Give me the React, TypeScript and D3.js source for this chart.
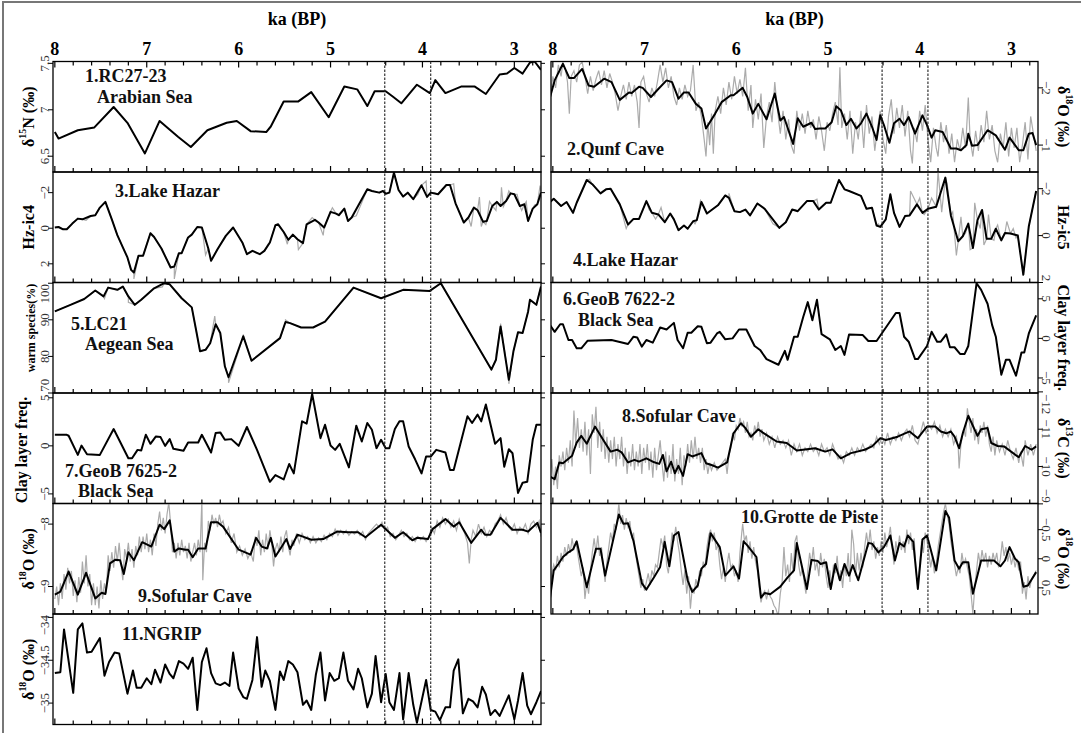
import React from 'react';
import * as d3 from 'd3';

type P = [number, number];

// ---------- data (ka BP, value) ----------
const kaTicks = [8, 7, 6, 5, 4, 3];
const eventLines = [4.41, 3.91];

const rc2723: P[] = [[8.0,6.76],[7.96,6.69],[7.75,6.78],[7.57,6.81],[7.36,7.03],[7.21,6.86],[7.02,6.53],[6.86,6.88],[6.66,6.71],[6.52,6.6],[6.34,6.78],[6.13,6.86],[6.02,6.88],[5.87,6.77],[5.7,6.76],[5.65,6.82],[5.51,7.09],[5.35,7.09],[5.21,7.19],[5.02,6.92],[4.85,7.25],[4.71,7.22],[4.6,7.04],[4.52,7.2],[4.4,7.2],[4.32,7.14],[4.23,7.07],[4.06,7.27],[3.92,7.18],[3.86,7.32],[3.75,7.18],[3.58,7.25],[3.43,7.25],[3.31,7.17],[3.16,7.38],[3.08,7.39],[3.0,7.45],[2.91,7.39],[2.83,7.51],[2.78,7.52],[2.71,7.43]];

const qunfSmooth: P[] = [[8.03,-1.84],[7.98,-2.13],[7.89,-2.42],[7.82,-2.17],[7.77,-2.17],[7.68,-2.33],[7.61,-2.04],[7.55,-2.02],[7.44,-2.16],[7.36,-2.1],[7.27,-1.79],[7.17,-1.92],[7.14,-1.91],[7.06,-2.02],[7.02,-2.0],[6.93,-1.84],[6.85,-1.98],[6.76,-2.13],[6.7,-2.1],[6.63,-1.81],[6.57,-1.92],[6.52,-1.92],[6.44,-1.72],[6.38,-1.64],[6.33,-1.29],[6.23,-1.55],[6.16,-1.75],[6.06,-1.87],[6.03,-1.87],[5.93,-2.0],[5.88,-1.84],[5.82,-1.55],[5.76,-1.72],[5.67,-1.45],[5.58,-1.9],[5.52,-1.43],[5.48,-1.49],[5.38,-1.02],[5.33,-1.47],[5.27,-1.32],[5.18,-1.39],[5.14,-1.28],[5.09,-1.29],[5.03,-1.29],[4.96,-1.4],[4.91,-1.68],[4.86,-1.61],[4.8,-1.35],[4.75,-1.46],[4.69,-1.29],[4.64,-1.38],[4.58,-1.55],[4.52,-1.32],[4.47,-1.09],[4.43,-1.52],[4.39,-1.35],[4.33,-1.04],[4.28,-1.38],[4.22,-1.46],[4.17,-1.35],[4.12,-1.49],[4.05,-1.2],[3.97,-1.52],[3.92,-1.35],[3.87,-1.13],[3.83,-1.26],[3.75,-1.23],[3.66,-0.94],[3.6,-0.94],[3.55,-0.91],[3.49,-1.0],[3.47,-1.2],[3.43,-0.99],[3.37,-1.0],[3.26,-1.26],[3.17,-1.17],[3.07,-0.92],[3.02,-1.13],[2.92,-0.91],[2.87,-0.91],[2.81,-1.2],[2.77,-1.21],[2.73,-1.0]];

const qunfRaw: P[] = [[8.03,-1.8],[8.0,-2.2],[7.97,-2.0],[7.94,-2.4],[7.91,-2.2],[7.89,-2.45],[7.86,-2.3],[7.84,-2.1],[7.82,-1.55],[7.8,-2.2],[7.77,-2.3],[7.74,-2.1],[7.71,-2.4],[7.68,-2.45],[7.65,-2.2],[7.62,-1.9],[7.59,-2.2],[7.56,-1.95],[7.53,-2.15],[7.5,-2.3],[7.47,-2.05],[7.44,-2.3],[7.41,-2.0],[7.38,-2.25],[7.35,-2.1],[7.32,-1.9],[7.29,-1.6],[7.26,-1.85],[7.23,-2.05],[7.2,-1.8],[7.17,-2.1],[7.14,-1.85],[7.11,-2.05],[7.08,-1.75],[7.06,-1.3],[7.04,-2.1],[7.01,-2.2],[6.98,-1.9],[6.95,-1.75],[6.92,-2.0],[6.89,-1.85],[6.86,-2.1],[6.83,-2.4],[6.8,-2.1],[6.77,-2.35],[6.74,-2.0],[6.71,-2.2],[6.68,-1.85],[6.65,-1.7],[6.62,-2.0],[6.59,-1.8],[6.56,-2.05],[6.53,-1.85],[6.5,-1.95],[6.47,-2.4],[6.44,-1.6],[6.41,-1.75],[6.38,-1.5],[6.35,-1.1],[6.33,-0.8],[6.31,-1.4],[6.29,-1.0],[6.27,-1.55],[6.25,-0.85],[6.23,-1.6],[6.2,-1.85],[6.17,-1.55],[6.14,-2.0],[6.11,-1.7],[6.08,-2.1],[6.05,-1.8],[6.02,-2.2],[5.99,-1.9],[5.96,-2.15],[5.93,-1.85],[5.9,-2.35],[5.87,-1.6],[5.84,-2.05],[5.82,-1.3],[5.79,-1.8],[5.76,-1.45],[5.73,-1.9],[5.7,-0.95],[5.67,-1.5],[5.64,-1.75],[5.61,-1.4],[5.58,-2.1],[5.55,-1.6],[5.52,-1.2],[5.49,-1.6],[5.46,-1.1],[5.43,-1.45],[5.4,-1.0],[5.37,-0.85],[5.34,-1.6],[5.31,-1.25],[5.28,-1.55],[5.25,-1.2],[5.22,-1.6],[5.19,-1.3],[5.16,-1.45],[5.13,-1.1],[5.1,-1.5],[5.07,-1.25],[5.04,-0.9],[5.01,-1.4],[4.98,-1.25],[4.95,-1.55],[4.92,-1.75],[4.89,-1.35],[4.87,-2.36],[4.85,-1.3],[4.82,-1.55],[4.79,-1.1],[4.76,-1.6],[4.73,-0.85],[4.7,-1.4],[4.67,-1.1],[4.64,-1.6],[4.61,-0.95],[4.58,-1.7],[4.55,-1.2],[4.52,-1.5],[4.49,-0.9],[4.46,-1.3],[4.43,-1.6],[4.4,-1.1],[4.37,-0.85],[4.34,-1.5],[4.31,-1.8],[4.28,-1.2],[4.25,-1.65],[4.22,-1.3],[4.19,-1.7],[4.16,-1.15],[4.13,-1.6],[4.1,-0.9],[4.08,-0.68],[4.06,-1.3],[4.03,-1.05],[4.0,-1.6],[3.97,-1.25],[3.94,-1.7],[3.91,-1.1],[3.88,-0.7],[3.85,-1.3],[3.82,-0.95],[3.8,-0.8],[3.77,-1.4],[3.74,-1.05],[3.71,-1.35],[3.68,-0.85],[3.65,-1.2],[3.62,-0.7],[3.59,-1.1],[3.56,-0.9],[3.53,-1.3],[3.5,-0.95],[3.47,-1.83],[3.45,-1.1],[3.42,-0.8],[3.39,-1.25],[3.36,-0.9],[3.33,-1.35],[3.3,-1.05],[3.27,-1.6],[3.24,-1.1],[3.21,-1.35],[3.18,-0.9],[3.15,-0.7],[3.12,-1.2],[3.09,-0.95],[3.06,-1.4],[3.03,-0.8],[3.0,-1.3],[2.97,-0.95],[2.94,-1.3],[2.91,-0.7],[2.88,-1.0],[2.85,-1.4],[2.82,-0.75],[2.79,-1.5],[2.76,-1.2],[2.73,-0.9]];

const hazarIc4: P[] = [[8.0,-0.04],[7.96,-0.07],[7.91,0.06],[7.87,0.06],[7.81,-0.26],[7.75,-0.54],[7.7,-0.5],[7.61,-0.69],[7.56,-0.73],[7.51,-1.16],[7.45,-1.48],[7.38,-0.5],[7.32,0.39],[7.26,1.08],[7.21,1.64],[7.17,2.34],[7.14,2.49],[7.09,1.55],[7.04,1.55],[6.96,0.28],[6.92,0.49],[6.84,1.14],[6.74,2.21],[6.7,2.15],[6.65,1.4],[6.62,1.4],[6.55,0.52],[6.51,0.36],[6.45,-0.07],[6.4,-0.04],[6.33,1.14],[6.3,1.83],[6.23,1.18],[6.14,0.43],[6.06,-0.04],[5.96,0.8],[5.91,1.46],[5.85,1.27],[5.77,1.46],[5.72,1.27],[5.66,0.8],[5.6,-0.17],[5.57,-0.22],[5.51,0.21],[5.46,0.65],[5.41,0.36],[5.36,0.62],[5.3,0.84],[5.26,-0.22],[5.17,-0.47],[5.13,-0.32],[5.07,-0.04],[5.0,-0.92],[4.94,-0.82],[4.91,-0.73],[4.85,-1.1],[4.81,-0.41],[4.77,-0.6],[4.6,-2.19],[4.55,-2.09],[4.47,-2.0],[4.43,-2.09],[4.4,-1.94],[4.36,-2.0],[4.31,-3.12],[4.26,-2.15],[4.21,-1.78],[4.16,-2.0],[4.1,-1.63],[4.01,-2.41],[3.95,-1.76],[3.91,-2.0],[3.83,-1.91],[3.74,-2.43],[3.7,-2.43],[3.64,-1.4],[3.55,-0.32],[3.5,-0.6],[3.44,-1.16],[3.4,-1.01],[3.34,-0.36],[3.3,-0.41],[3.24,-1.25],[3.19,-1.48],[3.15,-1.25],[3.09,-1.53],[3.04,-1.96],[3.0,-1.91],[2.94,-1.25],[2.89,-1.35],[2.85,-0.41],[2.8,-1.1],[2.75,-1.35],[2.71,-2.0]];
const hazarIc4Spikes: P[] = [[7.66,-0.45],[7.14,2.85],[6.98,0.6],[6.7,2.85],[6.36,1.5],[5.68,0.9],[5.47,0.9],[5.35,1.2],[5.2,-0.6],[5.08,0.4],[4.98,-1.15],[4.72,-0.7],[4.42,-2.1],[4.05,-1.9],[3.96,-2.65],[3.87,-2.0],[3.66,-2.5],[3.47,-0.1],[3.38,-1.75],[3.36,-0.1],[3.31,-0.2],[3.27,-1.5],[3.2,-1.0],[3.14,-2.3],[3.12,-1.2],[3.06,-2.1],[2.97,-1.9],[2.92,-1.0],[2.87,-1.5],[2.78,-1.3],[2.72,-2.4]];

const hazarIc5: P[] = [[8.03,-1.43],[7.99,-1.57],[7.91,-1.26],[7.85,-1.43],[7.78,-0.97],[7.74,-1.4],[7.63,-2.37],[7.57,-2.19],[7.48,-1.8],[7.42,-1.97],[7.37,-2.0],[7.27,-1.33],[7.18,-0.47],[7.12,-0.71],[7.06,-0.71],[6.98,-1.47],[6.92,-0.97],[6.85,-0.9],[6.78,-0.57],[6.72,-0.94],[6.68,-0.69],[6.63,-0.23],[6.57,-0.43],[6.53,-0.29],[6.47,-0.61],[6.43,-0.66],[6.38,-1.43],[6.32,-0.94],[6.2,-1.29],[6.12,-1.71],[6.08,-1.61],[6.02,-1.04],[5.96,-1.0],[5.9,-1.11],[5.85,-0.86],[5.77,-1.37],[5.69,-1.14],[5.53,-0.33],[5.46,-0.57],[5.39,-1.11],[5.33,-1.04],[5.23,-1.47],[5.16,-1.47],[5.1,-1.11],[5.02,-1.4],[4.97,-1.4],[4.88,-2.37],[4.82,-1.97],[4.77,-1.9],[4.64,-1.69],[4.58,-1.14],[4.52,-1.19],[4.47,-0.43],[4.43,-0.37],[4.37,-0.69],[4.32,-1.76],[4.28,-0.97],[4.22,-0.37],[4.16,-0.83],[4.11,-0.86],[4.03,-1.33],[3.97,-0.97],[3.91,-1.14],[3.82,-1.23],[3.72,-2.47],[3.66,-0.86],[3.58,0.24],[3.53,0.03],[3.47,-0.51],[3.42,0.53],[3.37,-0.66],[3.32,-1.09],[3.27,0.14],[3.22,0.14],[3.17,-0.29],[3.11,0.2],[3.07,-0.11],[3.01,-0.09],[2.93,0.0],[2.87,1.67],[2.81,-0.4],[2.73,-1.9]];
const hazarIc5Spikes: P[] = [[7.6,-2.4],[7.45,-1.9],[7.2,-0.3],[6.95,-1.1],[6.88,-0.7],[6.82,-1.2],[6.45,-0.5],[6.39,-1.5],[6.08,-1.8],[5.6,-0.5],[5.35,-1.1],[5.12,-1.55],[4.45,-0.5],[4.1,-1.9],[4.0,-1.6],[3.95,-0.9],[3.87,-1.6],[3.8,-2.75],[3.76,-1.0],[3.7,-2.2],[3.64,-1.0],[3.6,0.85],[3.55,-0.8],[3.5,-0.1],[3.45,0.6],[3.4,-1.4],[3.34,-0.3],[3.3,0.4],[3.25,-0.9],[3.19,0.2],[3.15,-0.45],[3.1,0.1],[3.05,-0.6],[2.98,-0.3],[2.95,0.1]];

const lc21: P[] = [[8.0,92.3],[7.83,94.1],[7.68,95.7],[7.56,98.0],[7.47,96.4],[7.42,98.8],[7.32,98.2],[7.26,99.1],[7.2,96.4],[7.13,94.1],[7.06,95.5],[6.92,98.6],[6.81,100.0],[6.75,99.7],[6.62,95.9],[6.51,93.4],[6.46,86.8],[6.42,81.4],[6.36,81.8],[6.31,83.6],[6.25,88.8],[6.2,86.4],[6.15,77.3],[6.11,74.3],[5.95,85.5],[5.86,78.8],[5.55,85.0],[5.49,89.4],[5.44,89.1],[5.32,87.9],[5.19,87.9],[5.06,89.5],[4.75,98.8],[4.45,95.9],[4.21,98.2],[3.92,97.9],[3.8,100.0],[3.25,76.4],[3.2,79.1],[3.15,88.2],[3.06,73.6],[3.01,81.4],[2.96,86.6],[2.91,86.4],[2.85,92.3],[2.83,95.5],[2.76,94.1],[2.71,99.1]];
const lc21Spikes: P[] = [[7.46,95.8],[7.2,94.8],[6.83,99.0],[6.26,91.0],[6.11,72.8],[5.95,86.0],[5.49,90.0],[3.2,80.5],[3.15,89.0],[3.06,72.5],[2.76,94.6]];

const geob7622: P[] = [[8.03,1.67],[7.98,0.83],[7.92,1.79],[7.89,1.79],[7.83,-0.21],[7.79,-0.21],[7.74,-1.25],[7.69,-1.25],[7.62,-0.29],[7.36,-0.21],[7.18,-0.71],[7.12,0.21],[7.08,0.12],[7.03,-1.04],[6.98,-0.21],[6.91,-0.54],[6.83,1.37],[6.76,1.12],[6.68,1.96],[6.64,-0.21],[6.58,-1.25],[6.53,0.71],[6.49,0.71],[6.42,1.54],[6.38,1.46],[6.32,-0.62],[6.28,-0.54],[6.21,0.62],[6.18,0.83],[6.12,-0.12],[6.04,0.0],[5.97,1.12],[5.89,1.12],[5.8,-0.96],[5.74,-1.46],[5.67,-2.62],[5.54,-3.33],[5.47,-1.58],[5.44,-2.71],[5.37,0.21],[5.33,0.21],[5.27,2.71],[5.22,4.58],[5.17,2.29],[5.12,4.87],[5.07,0.54],[4.98,-0.12],[4.92,-1.46],[4.86,-0.96],[4.82,-2.08],[4.77,0.5],[4.62,0.42],[4.56,-0.33],[4.47,-0.33],[4.26,3.21],[4.22,3.21],[4.17,0.21],[4.12,-0.42],[4.05,-2.62],[4.02,-2.62],[3.92,-0.96],[3.87,0.83],[3.81,-0.42],[3.77,-0.42],[3.71,0.5],[3.67,-1.12],[3.62,-1.12],[3.56,-1.96],[3.51,-1.96],[3.47,-0.96],[3.38,6.96],[3.33,6.12],[3.26,4.38],[3.21,1.67],[3.17,0.21],[3.11,-4.58],[3.06,-2.71],[3.02,-2.71],[2.95,-4.71],[2.89,-1.79],[2.86,-1.79],[2.81,0.62],[2.73,2.92]];

const geob7625: P[] = [[8.0,1.15],[7.87,1.15],[7.85,1.05],[7.75,-0.94],[7.71,0.03],[7.65,-0.87],[7.51,-0.94],[7.36,1.75],[7.2,-1.29],[7.16,-1.29],[7.1,-0.42],[7.06,-0.49],[7.01,1.15],[6.96,0.21],[6.9,0.98],[6.85,0.91],[6.8,0.0],[6.75,0.7],[6.71,-0.31],[6.6,-0.52],[6.55,0.35],[6.44,0.35],[6.4,1.15],[6.3,-0.7],[6.25,1.33],[6.2,1.4],[6.15,0.63],[6.08,0.7],[6.0,0.0],[5.91,1.96],[5.8,-0.42],[5.66,-3.74],[5.6,-3.04],[5.51,-3.5],[5.45,-1.89],[5.4,-2.87],[5.31,2.55],[5.26,2.31],[5.2,5.4],[5.11,0.8],[5.06,2.2],[5.0,0.03],[4.95,-0.42],[4.9,0.21],[4.8,-2.24],[4.72,2.1],[4.66,0.45],[4.6,2.38],[4.55,1.68],[4.5,-0.24],[4.45,0.63],[4.4,-0.24],[4.36,-0.24],[4.3,1.75],[4.25,2.55],[4.21,2.55],[4.15,-0.07],[4.08,-1.4],[4.01,-2.87],[3.96,-1.12],[3.91,-1.12],[3.85,-0.42],[3.75,-0.7],[3.7,-2.52],[3.66,-2.52],[3.51,3.08],[3.46,2.38],[3.4,3.25],[3.36,2.55],[3.31,4.3],[3.21,0.21],[3.15,0.8],[3.11,-2.17],[3.06,-0.35],[3.02,-0.77],[2.96,-4.9],[2.91,-3.84],[2.86,-3.74],[2.8,0.63],[2.76,2.2],[2.71,2.2]];

const sofularC13Smooth: P[] = [[8.03,-9.73],[7.98,-9.66],[7.93,-10.11],[7.89,-10.09],[7.79,-10.29],[7.74,-10.64],[7.69,-10.82],[7.63,-10.61],[7.54,-11.07],[7.45,-10.71],[7.37,-10.4],[7.3,-10.45],[7.25,-10.38],[7.18,-10.11],[7.11,-10.18],[7.06,-10.13],[6.98,-10.22],[6.91,-10.13],[6.84,-10.07],[6.8,-10.31],[6.76,-9.87],[6.71,-10.13],[6.67,-9.82],[6.63,-10.02],[6.58,-9.75],[6.53,-10.33],[6.48,-10.27],[6.38,-10.36],[6.33,-10.09],[6.27,-10.04],[6.2,-9.97],[6.1,-10.11],[6.03,-10.89],[5.95,-11.16],[5.9,-11.03],[5.84,-10.8],[5.76,-11.0],[5.71,-10.91],[5.56,-10.67],[5.45,-10.63],[5.34,-10.43],[5.14,-10.49],[5.03,-10.4],[4.95,-10.46],[4.86,-10.22],[4.75,-10.36],[4.6,-10.45],[4.52,-10.54],[4.43,-10.76],[4.37,-10.71],[4.24,-10.8],[4.11,-10.94],[4.02,-10.76],[3.95,-10.98],[3.92,-11.07],[3.83,-11.07],[3.77,-10.94],[3.71,-10.89],[3.66,-10.94],[3.62,-10.8],[3.57,-10.49],[3.53,-10.89],[3.47,-11.36],[3.37,-10.82],[3.33,-11.0],[3.26,-11.03],[3.22,-10.63],[3.15,-10.55],[3.08,-10.54],[2.92,-10.25],[2.85,-10.55],[2.78,-10.45],[2.73,-10.54]];

const sofularC13Raw: P[] = [[8.03,-9.7],[8.01,-10.2],[7.99,-9.5],[7.97,-10.0],[7.95,-9.4],[7.93,-10.3],[7.91,-10.0],[7.89,-10.4],[7.87,-9.9],[7.85,-10.5],[7.83,-10.1],[7.81,-10.7],[7.79,-10.0],[7.77,-11.5],[7.75,-10.6],[7.73,-11.3],[7.71,-10.5],[7.69,-11.0],[7.67,-10.4],[7.65,-11.2],[7.63,-10.3],[7.61,-11.0],[7.59,-9.8],[7.57,-11.4],[7.55,-10.9],[7.53,-11.6],[7.51,-10.5],[7.49,-11.2],[7.47,-10.4],[7.45,-11.0],[7.43,-10.2],[7.41,-10.8],[7.39,-10.1],[7.37,-10.7],[7.35,-10.2],[7.33,-10.8],[7.31,-10.0],[7.29,-10.6],[7.27,-10.2],[7.25,-10.8],[7.23,-10.0],[7.21,-10.5],[7.19,-9.8],[7.17,-10.4],[7.15,-10.0],[7.13,-10.6],[7.11,-9.9],[7.09,-10.4],[7.07,-10.0],[7.05,-10.6],[7.03,-9.8],[7.01,-10.5],[6.99,-10.1],[6.97,-10.6],[6.95,-9.9],[6.93,-10.4],[6.91,-9.7],[6.89,-10.5],[6.87,-9.9],[6.85,-10.3],[6.83,-10.7],[6.81,-10.1],[6.79,-9.6],[6.77,-10.4],[6.75,-9.7],[6.73,-10.3],[6.71,-9.8],[6.69,-10.6],[6.67,-9.6],[6.65,-10.2],[6.63,-9.8],[6.61,-10.5],[6.59,-9.5],[6.57,-10.3],[6.55,-10.0],[6.53,-10.6],[6.51,-10.1],[6.49,-10.7],[6.47,-10.2],[6.45,-10.8],[6.43,-10.2],[6.41,-10.5],[6.39,-10.1],[6.37,-10.5],[6.35,-9.9],[6.33,-10.2],[6.31,-9.8],[6.29,-10.1],[6.27,-9.9],[6.24,-10.1],[6.21,-9.9],[6.18,-10.0],[6.15,-10.1],[6.12,-10.2],[6.1,-9.8],[6.08,-10.3],[6.06,-10.5],[6.04,-10.9],[6.02,-10.7],[6.0,-11.1],[5.98,-11.0],[5.96,-11.3],[5.94,-11.1],[5.92,-11.2],[5.9,-10.9],[5.88,-11.2],[5.86,-10.8],[5.84,-10.9],[5.82,-10.7],[5.8,-11.1],[5.78,-10.9],[5.76,-11.2],[5.74,-10.8],[5.72,-11.0],[5.7,-10.7],[5.67,-10.9],[5.64,-10.6],[5.61,-10.8],[5.58,-10.5],[5.55,-10.8],[5.52,-10.6],[5.49,-10.7],[5.46,-10.5],[5.43,-10.7],[5.4,-10.3],[5.37,-10.6],[5.34,-10.4],[5.31,-10.6],[5.28,-10.3],[5.25,-10.5],[5.22,-10.4],[5.19,-10.6],[5.16,-10.4],[5.13,-10.5],[5.1,-10.3],[5.07,-10.6],[5.04,-10.4],[5.01,-10.5],[4.98,-10.3],[4.95,-10.6],[4.92,-10.4],[4.89,-10.2],[4.86,-10.3],[4.83,-10.1],[4.8,-10.4],[4.77,-10.3],[4.74,-10.5],[4.71,-10.3],[4.68,-10.5],[4.65,-10.4],[4.62,-10.6],[4.59,-10.4],[4.56,-10.5],[4.53,-10.6],[4.5,-10.5],[4.47,-10.8],[4.44,-10.6],[4.41,-10.8],[4.38,-10.6],[4.35,-10.9],[4.32,-10.6],[4.29,-10.8],[4.26,-10.7],[4.23,-10.9],[4.2,-10.7],[4.17,-10.9],[4.14,-11.0],[4.11,-10.8],[4.08,-11.1],[4.05,-10.7],[4.02,-10.6],[3.99,-10.9],[3.96,-11.2],[3.93,-10.9],[3.9,-11.1],[3.87,-11.0],[3.84,-11.2],[3.81,-10.9],[3.78,-11.1],[3.75,-10.8],[3.72,-11.0],[3.69,-10.8],[3.66,-11.0],[3.63,-10.6],[3.6,-10.8],[3.58,-10.5],[3.57,-9.95],[3.55,-10.6],[3.52,-11.0],[3.5,-10.8],[3.48,-11.56],[3.46,-11.2],[3.44,-10.9],[3.42,-11.3],[3.4,-10.7],[3.38,-11.0],[3.36,-10.6],[3.34,-11.1],[3.32,-10.9],[3.3,-11.2],[3.28,-10.8],[3.26,-11.1],[3.24,-10.6],[3.22,-10.4],[3.2,-10.8],[3.18,-10.3],[3.16,-10.7],[3.13,-10.4],[3.1,-10.6],[3.07,-10.3],[3.04,-10.7],[3.01,-10.4],[2.98,-10.2],[2.95,-10.5],[2.92,-10.1],[2.9,-10.4],[2.87,-10.0],[2.85,-10.7],[2.82,-10.3],[2.79,-10.6],[2.76,-10.3],[2.73,-10.6]];

const sofularO18Smooth: P[] = [[8.0,-9.13],[7.94,-9.08],[7.85,-8.76],[7.75,-9.13],[7.66,-8.78],[7.56,-9.19],[7.49,-9.1],[7.45,-9.12],[7.4,-8.63],[7.34,-8.57],[7.29,-8.58],[7.25,-8.8],[7.2,-8.45],[7.14,-8.58],[7.05,-8.29],[6.95,-8.36],[6.86,-8.01],[6.81,-8.08],[6.75,-7.94],[6.7,-8.44],[6.65,-8.39],[6.58,-8.41],[6.55,-8.41],[6.5,-8.53],[6.44,-8.39],[6.36,-8.39],[6.3,-7.97],[6.23,-7.97],[6.17,-8.04],[6.0,-8.41],[5.87,-8.49],[5.81,-8.22],[5.75,-8.36],[5.69,-8.39],[5.65,-8.22],[5.6,-8.52],[5.53,-8.36],[5.48,-8.24],[5.44,-8.4],[5.36,-8.17],[5.3,-8.2],[5.21,-8.25],[5.08,-8.24],[4.93,-8.12],[4.81,-8.13],[4.7,-8.13],[4.62,-8.21],[4.45,-8.01],[4.3,-8.22],[4.21,-8.13],[4.11,-8.26],[4.06,-8.22],[3.94,-8.24],[3.89,-8.08],[3.75,-7.92],[3.66,-8.04],[3.6,-7.97],[3.47,-8.3],[3.36,-8.09],[3.32,-8.17],[3.26,-8.17],[3.15,-7.9],[3.02,-8.09],[2.91,-8.09],[2.85,-8.12],[2.75,-7.98],[2.71,-8.14]];

const sofularO18Raw: P[] = [[8.0,-9.2],[7.98,-9.0],[7.96,-9.3],[7.94,-8.95],[7.92,-9.2],[7.9,-8.8],[7.88,-9.05],[7.86,-8.7],[7.84,-8.95],[7.82,-8.75],[7.8,-9.15],[7.78,-8.9],[7.76,-9.25],[7.74,-8.85],[7.72,-9.1],[7.7,-8.6],[7.68,-8.95],[7.66,-8.5],[7.64,-9.0],[7.62,-8.8],[7.6,-9.3],[7.58,-8.95],[7.56,-9.3],[7.54,-9.0],[7.52,-9.35],[7.5,-8.9],[7.48,-9.2],[7.46,-8.95],[7.44,-9.1],[7.42,-8.5],[7.4,-8.75],[7.38,-8.45],[7.36,-8.7],[7.34,-8.35],[7.32,-8.6],[7.3,-8.3],[7.28,-8.65],[7.26,-8.9],[7.24,-8.4],[7.22,-8.55],[7.2,-8.3],[7.18,-8.6],[7.16,-8.4],[7.14,-8.7],[7.12,-8.35],[7.1,-8.5],[7.08,-8.2],[7.06,-8.45],[7.04,-8.2],[7.02,-8.4],[7.0,-8.15],[6.98,-8.45],[6.96,-8.25],[6.94,-8.5],[6.92,-8.15],[6.9,-8.35],[6.88,-8.0],[6.86,-7.8],[6.84,-8.1],[6.82,-7.9],[6.8,-8.15],[6.78,-7.85],[6.76,-7.65],[6.74,-8.0],[6.72,-8.45],[6.7,-8.3],[6.68,-8.55],[6.66,-8.3],[6.64,-8.5],[6.62,-8.25],[6.6,-8.45],[6.58,-8.35],[6.56,-8.55],[6.54,-8.3],[6.52,-8.6],[6.5,-8.45],[6.48,-8.3],[6.46,-8.5],[6.44,-8.25],[6.42,-8.45],[6.4,-7.6],[6.39,-8.9],[6.37,-8.3],[6.35,-8.45],[6.33,-7.95],[6.31,-8.1],[6.29,-7.85],[6.27,-8.0],[6.25,-7.9],[6.23,-8.05],[6.21,-7.85],[6.19,-8.0],[6.17,-7.95],[6.14,-8.15],[6.11,-8.05],[6.08,-8.3],[6.05,-8.15],[6.02,-8.45],[5.99,-8.35],[5.96,-8.5],[5.93,-8.4],[5.9,-8.55],[5.87,-8.45],[5.84,-8.6],[5.82,-8.2],[5.8,-8.35],[5.78,-8.1],[5.76,-8.5],[5.74,-8.25],[5.72,-8.45],[5.7,-8.15],[5.68,-8.4],[5.66,-8.1],[5.64,-8.3],[5.62,-8.68],[5.6,-8.4],[5.58,-8.3],[5.56,-8.45],[5.54,-8.2],[5.52,-8.45],[5.5,-8.2],[5.48,-8.1],[5.46,-8.35],[5.44,-8.5],[5.42,-8.25],[5.4,-8.35],[5.37,-8.15],[5.34,-8.3],[5.31,-8.15],[5.28,-8.25],[5.25,-8.2],[5.22,-8.3],[5.19,-8.2],[5.16,-8.3],[5.13,-8.22],[5.1,-8.28],[5.07,-8.18],[5.04,-8.25],[5.01,-8.15],[4.98,-8.2],[4.95,-8.08],[4.92,-8.18],[4.89,-8.1],[4.86,-8.16],[4.83,-8.1],[4.8,-8.18],[4.77,-8.12],[4.74,-8.16],[4.71,-8.1],[4.68,-8.18],[4.65,-8.12],[4.62,-8.25],[4.59,-8.15],[4.56,-8.1],[4.53,-8.05],[4.5,-8.0],[4.47,-8.05],[4.44,-7.97],[4.41,-8.1],[4.38,-8.05],[4.35,-8.2],[4.32,-8.15],[4.29,-8.25],[4.26,-8.18],[4.23,-8.1],[4.2,-8.2],[4.17,-8.15],[4.14,-8.25],[4.11,-8.2],[4.08,-8.28],[4.05,-8.2],[4.02,-8.25],[3.99,-8.2],[3.96,-8.28],[3.93,-8.2],[3.9,-8.05],[3.87,-8.15],[3.84,-7.95],[3.81,-8.05],[3.78,-7.9],[3.75,-8.0],[3.72,-7.92],[3.69,-8.05],[3.66,-7.95],[3.63,-8.1],[3.6,-7.92],[3.57,-8.05],[3.54,-8.15],[3.51,-8.3],[3.49,-8.63],[3.47,-8.25],[3.45,-8.1],[3.42,-8.2],[3.39,-8.0],[3.36,-8.15],[3.33,-8.05],[3.3,-8.2],[3.27,-8.1],[3.24,-8.15],[3.21,-8.0],[3.18,-7.95],[3.15,-7.85],[3.12,-8.0],[3.09,-7.9],[3.06,-8.05],[3.03,-8.1],[3.0,-8.0],[2.97,-8.15],[2.94,-8.05],[2.91,-8.1],[2.88,-8.0],[2.85,-8.15],[2.82,-8.0],[2.79,-7.95],[2.76,-8.05],[2.73,-7.95],[2.71,-8.2]];

const pisteSmooth: P[] = [[8.03,0.67],[7.99,0.2],[7.94,0.09],[7.89,-0.03],[7.83,-0.11],[7.78,-0.16],[7.74,-0.3],[7.63,0.49],[7.53,-0.17],[7.48,-0.17],[7.43,0.29],[7.28,-0.76],[7.23,-0.6],[7.18,-0.61],[7.12,-0.3],[7.03,0.42],[6.98,0.53],[6.89,0.3],[6.83,0.14],[6.78,-0.29],[6.73,0.13],[6.68,-0.4],[6.63,-0.46],[6.53,0.37],[6.48,0.57],[6.42,0.46],[6.38,0.17],[6.33,0.09],[6.28,-0.44],[6.18,-0.2],[6.12,0.29],[6.03,0.13],[5.97,0.34],[5.92,-0.3],[5.88,-0.23],[5.78,-0.03],[5.73,0.67],[5.69,0.59],[5.63,0.61],[5.52,0.48],[5.44,0.32],[5.37,0.2],[5.34,-0.27],[5.23,0.52],[5.18,0.02],[5.11,0.04],[5.08,0.09],[5.02,0.06],[4.97,0.52],[4.92,0.09],[4.87,0.37],[4.82,0.09],[4.77,0.29],[4.73,0.11],[4.67,0.37],[4.56,-0.27],[4.52,-0.26],[4.45,-0.11],[4.39,-0.2],[4.32,-0.4],[4.27,0.03],[4.22,-0.27],[4.17,-0.21],[4.13,-0.4],[4.07,-0.29],[4.02,0.52],[3.97,-0.33],[3.92,-0.4],[3.82,0.2],[3.72,-0.82],[3.68,-0.71],[3.62,0.03],[3.57,0.17],[3.53,0.06],[3.47,0.06],[3.42,0.6],[3.33,0.03],[3.19,0.03],[3.12,0.13],[3.07,0.03],[3.02,-0.2],[2.96,0.0],[2.92,0.06],[2.87,0.48],[2.82,0.46],[2.73,0.23]];

const pisteRaw: P[] = [[8.03,0.6],[8.01,0.25],[7.99,0.1],[7.97,0.2],[7.95,-0.05],[7.93,0.15],[7.91,-0.1],[7.89,0.05],[7.87,-0.2],[7.85,-0.05],[7.83,-0.25],[7.81,-0.1],[7.79,-0.35],[7.77,-0.15],[7.75,-0.3],[7.73,-0.1],[7.71,0.1],[7.69,0.3],[7.67,0.15],[7.65,0.69],[7.63,0.4],[7.61,0.6],[7.59,0.2],[7.57,-0.1],[7.55,-0.35],[7.53,-0.1],[7.51,-0.4],[7.49,-0.05],[7.47,-0.2],[7.45,0.1],[7.43,0.4],[7.41,0.05],[7.39,-0.2],[7.37,-0.45],[7.35,-0.3],[7.33,-0.6],[7.31,-0.5],[7.29,-0.8],[7.28,-0.95],[7.26,-0.6],[7.24,-0.75],[7.22,-0.5],[7.2,-0.7],[7.18,-0.55],[7.16,-0.65],[7.14,-0.35],[7.12,-0.45],[7.1,-0.1],[7.08,0.1],[7.06,0.3],[7.04,0.5],[7.02,0.35],[7.0,0.55],[6.98,0.4],[6.96,0.25],[6.94,0.45],[6.92,0.2],[6.9,0.3],[6.88,0.1],[6.86,0.15],[6.84,-0.1],[6.82,-0.35],[6.8,-0.2],[6.78,-0.4],[6.76,0.1],[6.74,0.25],[6.72,-0.1],[6.7,-0.45],[6.68,-0.3],[6.66,-0.55],[6.64,-0.3],[6.62,-0.1],[6.6,0.2],[6.58,0.45],[6.56,0.2],[6.54,0.6],[6.52,0.3],[6.5,0.86],[6.48,0.5],[6.46,0.6],[6.44,0.35],[6.42,0.5],[6.4,0.2],[6.38,0.3],[6.36,0.05],[6.34,0.15],[6.32,-0.2],[6.3,-0.4],[6.28,-0.5],[6.26,-0.3],[6.24,-0.45],[6.22,-0.15],[6.2,-0.25],[6.18,0.1],[6.16,0.35],[6.14,0.15],[6.12,0.4],[6.1,0.1],[6.08,-0.1],[6.06,0.15],[6.04,0.1],[6.02,0.3],[6.0,0.2],[5.98,0.4],[5.96,-0.1],[5.94,-0.45],[5.93,-0.6],[5.91,-0.3],[5.89,-0.4],[5.87,-0.1],[5.85,-0.3],[5.83,0.0],[5.81,-0.2],[5.79,0.05],[5.77,0.2],[5.75,0.5],[5.73,0.75],[5.71,0.6],[5.69,0.55],[5.67,0.7],[5.65,0.55],[5.63,0.65],[5.61,0.7],[5.59,0.8],[5.57,0.85],[5.55,0.95],[5.54,0.95],[5.52,0.6],[5.5,0.4],[5.48,-0.2],[5.46,0.3],[5.44,0.1],[5.42,0.4],[5.4,-0.1],[5.38,0.25],[5.36,-0.3],[5.34,-0.4],[5.32,0.1],[5.3,0.3],[5.28,0.15],[5.26,0.4],[5.24,0.6],[5.22,0.2],[5.2,-0.1],[5.18,0.1],[5.16,-0.2],[5.14,0.2],[5.12,0.05],[5.1,0.3],[5.08,-0.1],[5.06,0.15],[5.04,0.0],[5.02,0.3],[5.0,0.5],[4.98,0.2],[4.96,0.45],[4.94,0.1],[4.92,0.25],[4.9,-0.05],[4.88,0.35],[4.86,0.2],[4.84,0.5],[4.82,0.1],[4.8,0.3],[4.78,-0.1],[4.76,0.4],[4.74,-0.5],[4.72,-0.25],[4.7,0.3],[4.68,-0.1],[4.66,0.2],[4.64,-0.1],[4.62,0.15],[4.6,-0.2],[4.58,-0.45],[4.56,-0.2],[4.54,-0.5],[4.52,-0.15],[4.5,-0.3],[4.48,0.0],[4.46,-0.2],[4.44,-0.05],[4.42,-0.3],[4.4,-0.1],[4.38,-0.45],[4.36,-0.2],[4.34,-0.35],[4.32,-0.55],[4.3,-0.2],[4.28,0.1],[4.26,-0.3],[4.24,-0.1],[4.22,-0.4],[4.2,-0.15],[4.18,-0.3],[4.16,-0.1],[4.14,-0.5],[4.12,-0.25],[4.1,-0.45],[4.08,-0.15],[4.06,-0.35],[4.04,0.2],[4.02,0.5],[4.0,0.1],[3.98,-0.3],[3.96,-0.1],[3.94,-0.45],[3.92,-0.3],[3.9,-0.1],[3.88,0.15],[3.86,-0.05],[3.84,0.25],[3.82,0.1],[3.8,-0.2],[3.78,-0.4],[3.76,-0.6],[3.74,-0.8],[3.72,-0.95],[3.7,-0.75],[3.68,-0.6],[3.66,-0.3],[3.64,-0.1],[3.62,0.1],[3.6,0.3],[3.58,0.15],[3.56,0.25],[3.54,-0.1],[3.52,0.1],[3.5,0.0],[3.48,0.15],[3.46,0.3],[3.44,0.6],[3.42,0.95],[3.4,0.5],[3.38,0.2],[3.36,-0.1],[3.34,0.1],[3.32,-0.15],[3.3,0.05],[3.28,-0.1],[3.26,0.15],[3.24,-0.05],[3.22,0.1],[3.2,-0.1],[3.18,0.05],[3.16,-0.1],[3.14,0.15],[3.12,0.0],[3.1,-0.3],[3.08,-0.05],[3.06,-0.2],[3.04,0.05],[3.02,-0.1],[3.0,0.1],[2.98,-0.05],[2.96,0.15],[2.94,0.0],[2.92,0.2],[2.9,0.05],[2.88,0.6],[2.86,0.4],[2.84,0.7],[2.82,0.3],[2.8,0.5],[2.78,0.35],[2.76,0.3],[2.73,0.2]];

const ngrip: P[] = [[8.0,-34.65],[7.94,-34.64],[7.9,-34.14],[7.8,-34.88],[7.75,-34.14],[7.7,-34.07],[7.65,-34.41],[7.6,-34.4],[7.51,-34.24],[7.46,-34.68],[7.41,-34.52],[7.35,-34.41],[7.3,-34.42],[7.21,-34.89],[7.15,-34.62],[7.11,-34.82],[7.06,-34.82],[7.0,-34.71],[6.95,-34.78],[6.91,-34.61],[6.85,-34.76],[6.8,-34.55],[6.75,-34.66],[6.71,-34.71],[6.65,-34.51],[6.6,-34.54],[6.55,-34.6],[6.5,-34.47],[6.45,-35.08],[6.4,-34.52],[6.35,-34.36],[6.3,-34.65],[6.25,-34.77],[6.2,-34.79],[6.15,-34.76],[6.1,-34.8],[6.06,-34.41],[6.0,-34.83],[5.95,-34.93],[5.91,-34.95],[5.85,-34.73],[5.8,-34.23],[5.75,-34.81],[5.71,-34.62],[5.66,-34.74],[5.6,-35.08],[5.55,-34.63],[5.51,-34.73],[5.46,-34.51],[5.41,-34.55],[5.36,-34.64],[5.3,-35.02],[5.26,-34.97],[5.21,-35.08],[5.16,-34.67],[5.11,-34.41],[5.06,-34.97],[5.01,-34.65],[4.96,-34.74],[4.91,-34.71],[4.86,-34.41],[4.81,-34.74],[4.75,-34.84],[4.7,-34.6],[4.66,-34.71],[4.6,-35.05],[4.55,-34.89],[4.51,-34.45],[4.45,-34.99],[4.4,-34.66],[4.36,-34.99],[4.31,-35.08],[4.25,-34.65],[4.21,-35.19],[4.15,-34.65],[4.1,-35.02],[4.06,-35.23],[3.96,-34.73],[3.91,-35.08],[3.86,-35.1],[3.81,-35.2],[3.75,-35.05],[3.7,-35.05],[3.66,-34.62],[3.61,-34.49],[3.56,-35.12],[3.5,-34.95],[3.45,-34.98],[3.4,-35.05],[3.35,-34.81],[3.31,-34.9],[3.26,-35.14],[3.21,-35.08],[3.16,-35.15],[3.11,-35.03],[3.06,-34.91],[3.0,-35.19],[2.96,-34.97],[2.91,-34.65],[2.86,-35.03],[2.82,-35.13],[2.76,-34.99],[2.71,-34.86]];

// ---------- layout ----------
const W = 1081, H = 733;
const COLS: [number, number][] = [[53, 541], [551, 1038]];
const ROWS = [61.5, 172, 282.5, 393, 503.5, 614, 724.5];
const KA_DOMAIN: [number, number] = [8.02, 2.71];
const SERIF = '"Liberation Serif", "Times New Roman", serif';
const TICK_FS = 13;

const merge = (a: P[], b: P[]): P[] => [...a, ...b].sort((p, q) => q[0] - p[0]);

type Title = { parts: { t: string; sup?: boolean }[]; size: number; x: number; cy?: number };
type Panel = {
  col: 0 | 1; row: number; black: P[]; gray?: P[]; domain: [number, number]; invert: boolean;
  ticks: number[]; labels: { t: string; x: number; y: number }[]; title: Title; topTicks?: boolean;
};

const d18 = [{ t: 'δ' }, { t: '18', sup: true }, { t: 'O (‰)' }];

const panels: Panel[] = [
  { col: 0, row: 0, black: rc2723, domain: [6.33, 7.52], invert: false, ticks: [6.5, 7, 7.5], topTicks: true,
    labels: [{ t: '1.RC27-23', x: 85, y: 82 }, { t: 'Arabian Sea', x: 97, y: 103 }],
    title: { parts: [{ t: 'δ' }, { t: '15', sup: true }, { t: 'N (‰)' }], size: 16, x: 28 } },
  { col: 1, row: 0, black: qunfSmooth, gray: qunfRaw, domain: [-2.46, -0.53], invert: true, ticks: [-2, -1], topTicks: true,
    labels: [{ t: '2.Qunf Cave', x: 567, y: 155 }], title: { parts: d18, size: 16, x: 1064 } },
  { col: 0, row: 1, black: hazarIc4, gray: merge(hazarIc4, hazarIc4Spikes), domain: [-3.16, 3.05], invert: true, ticks: [-2, 0, 2],
    labels: [{ t: '3.Lake Hazar', x: 115, y: 197 }], title: { parts: [{ t: 'Hz-ic4' }], size: 16, x: 28 } },
  { col: 1, row: 1, black: hazarIc5, gray: merge(hazarIc5, hazarIc5Spikes), domain: [-2.71, 2.0], invert: true, ticks: [-2, 0, 2],
    labels: [{ t: '4.Lake Hazar', x: 573, y: 266 }], title: { parts: [{ t: 'Hz-ic5' }], size: 16, x: 1064 } },
  { col: 0, row: 2, black: lc21, gray: merge(lc21, lc21Spikes), domain: [70, 100.2], invert: false, ticks: [70, 80, 90, 100],
    labels: [{ t: '5.LC21', x: 71, y: 330 }, { t: 'Aegean Sea', x: 85, y: 350 }],
    title: { parts: [{ t: 'warm species(%)' }], size: 12, x: 31, cy: 328 } },
  { col: 1, row: 2, black: geob7622, domain: [-6.9, 7.06], invert: false, ticks: [-5, 0, 5],
    labels: [{ t: '6.GeoB 7622-2', x: 563, y: 305 }, { t: 'Black Sea', x: 578, y: 326 }],
    title: { parts: [{ t: 'Clay layer freq.' }], size: 16, x: 1064 } },
  { col: 0, row: 3, black: geob7625, domain: [-6.0, 5.5], invert: false, ticks: [-5, 0, 5],
    labels: [{ t: '7.GeoB 7625-2', x: 65, y: 477 }, { t: 'Black Sea', x: 78, y: 497 }],
    title: { parts: [{ t: 'Clay layer freq.' }], size: 16, x: 21, cy: 450 } },
  { col: 1, row: 3, black: sofularC13Smooth, gray: sofularC13Raw, domain: [-11.97, -9.01], invert: true, ticks: [-12, -11, -10, -9],
    labels: [{ t: '8.Sofular Cave', x: 622, y: 422 }],
    title: { parts: [{ t: 'δ' }, { t: '13', sup: true }, { t: 'C (‰)' }], size: 16, x: 1064 } },
  { col: 0, row: 4, black: sofularO18Smooth, gray: sofularO18Raw, domain: [-9.44, -7.67], invert: false, ticks: [-9, -8],
    labels: [{ t: '9.Sofular Cave', x: 138, y: 602 }], title: { parts: d18, size: 16, x: 28 } },
  { col: 1, row: 4, black: pisteSmooth, gray: pisteRaw, domain: [-0.95, 0.95], invert: true, ticks: [-0.5, 0, 0.5],
    labels: [{ t: '10.Grotte de Piste', x: 741, y: 523 }], title: { parts: d18, size: 16, x: 1064 } },
  { col: 0, row: 5, black: ngrip, domain: [-35.25, -33.96], invert: false, ticks: [-35, -34.5, -34],
    labels: [{ t: '11.NGRIP', x: 122, y: 640 }], title: { parts: d18, size: 16, x: 28 } },
];

const fmt = (v: number) => (v < 0 ? '\u2212' : '') + String(Math.abs(v));

function PanelView({ p, idx }: { p: Panel; idx: number }) {
  const [x0, x1] = COLS[p.col];
  const y0 = ROWS[p.row], y1 = ROWS[p.row + 1];
  const x = d3.scaleLinear().domain(KA_DOMAIN).range([x0, x1]);
  const y = d3.scaleLinear().domain(p.domain).range(p.invert ? [y0, y1] : [y1, y0]);
  const line = d3.line<P>().x(d => x(d[0])).y(d => y(d[1]));
  const minor = d3.range(0, 27).map(i => +(8 - i * 0.2).toFixed(1));
  const clipId = `clip${idx}`;
  const isLeft = p.col === 0;
  const tickLabelX = isLeft ? 45 : 1046;
  const cy = p.title.cy ?? (y0 + y1) / 2;
  const tx = p.title.x;
  const labelPos = (t: number) => {
    const s = fmt(t);
    const half = (s.length * TICK_FS * 0.52) / 2;
    let c = y(t);
    if (p.row > 0) c = Math.max(c, y0 + half + 1);
    c = Math.min(c, y1 - half - 1);
    return c;
  };
  return (
    <g>
      <defs>
        <clipPath id={clipId}><rect x={x0} y={y0} width={x1 - x0} height={y1 - y0} /></clipPath>
      </defs>
      <g clipPath={`url(#${clipId})`}>
        {p.gray && <path d={line(p.gray) || ''} fill="none" stroke="#ababab" strokeWidth={1.2} />}
        <path d={line(p.black) || ''} fill="none" stroke="#000" strokeWidth={2} strokeLinejoin="round" />
      </g>
      <rect x={x0} y={y0} width={x1 - x0} height={y1 - y0} fill="none" stroke="#000" strokeWidth={1.3} />
      {minor.map(k => {
        const len = Number.isInteger(k) ? 6 : 4;
        return (
          <g key={k}>
            <line x1={x(k)} x2={x(k)} y1={y1} y2={y1 - len} stroke="#000" strokeWidth={1.2} />
            {p.topTicks && <line x1={x(k)} x2={x(k)} y1={y0} y2={y0 + len} stroke="#000" strokeWidth={1.2} />}
          </g>
        );
      })}
      {p.ticks.map(t => {
        const ly = labelPos(t);
        return (
          <g key={t}>
            {isLeft ? (
              <>
                <line x1={x0} x2={x0 - 5} y1={y(t)} y2={y(t)} stroke="#000" strokeWidth={1} />
                <line x1={x1} x2={x1 + 4} y1={y(t)} y2={y(t)} stroke="#000" strokeWidth={1} />
              </>
            ) : (
              <line x1={x1} x2={x1 + 5} y1={y(t)} y2={y(t)} stroke="#000" strokeWidth={1} />
            )}
            <text x={tickLabelX} y={ly} fontFamily={SERIF} fontSize={TICK_FS} fill="#333" textAnchor="middle"
              dominantBaseline="central" transform={`rotate(${isLeft ? -90 : 90},${tickLabelX},${ly})`}>{fmt(t)}</text>
          </g>
        );
      })}
      <text x={tx} y={cy} fontFamily={SERIF} fontWeight="bold" fontSize={p.title.size} textAnchor="middle"
        dominantBaseline="central" transform={`rotate(${isLeft ? -90 : 90},${tx},${cy})`}>
        {p.title.parts.map((s, i) => {
          const prev = i > 0 && p.title.parts[i - 1].sup;
          return (
            <tspan key={i} fontSize={s.sup ? p.title.size * 0.62 : p.title.size}
              dy={s.sup ? -6 : prev ? 6 : 0}>{s.t}</tspan>
          );
        })}
      </text>
      {p.labels.map((l, i) => (
        <text key={i} x={l.x} y={l.y} fontFamily={SERIF} fontWeight="bold" fontSize={18} fill="#111">{l.t}</text>
      ))}
    </g>
  );
}

export default function App() {
  const xs = COLS.map(([a, b]) => d3.scaleLinear().domain(KA_DOMAIN).range([a, b]));
  return (
    <svg width={W} height={H} style={{ position: 'absolute', left: 0, top: 0, background: '#fff' }}>
      <rect x={0} y={0} width={W} height={H} fill="#fff" />
      <path d={`M3,${H} L3,2 L${W},2`} fill="none" stroke="#777" strokeWidth={2} />
      {xs.map((x, c) => (
        <g key={c}>
          <text x={(COLS[c][0] + COLS[c][1]) / 2} y={25} textAnchor="middle" fontFamily={SERIF} fontWeight="bold" fontSize={18}>ka (BP)</text>
          {kaTicks.map(k => (
            <text key={k} x={x(k)} y={55} textAnchor="middle" fontFamily={SERIF} fontWeight="bold" fontSize={18}>{k}</text>
          ))}
        </g>
      ))}
      {panels.map((p, i) => <PanelView key={i} p={p} idx={i} />)}
      {xs.map((x, c) => eventLines.map(k => (
        <line key={`${c}-${k}`} x1={x(k)} x2={x(k)} y1={ROWS[0]} y2={c === 0 ? ROWS[6] : ROWS[5]}
          stroke="#222" strokeWidth={1.1} strokeDasharray="2.5,1.5" />
      )))}
    </svg>
  );
}
